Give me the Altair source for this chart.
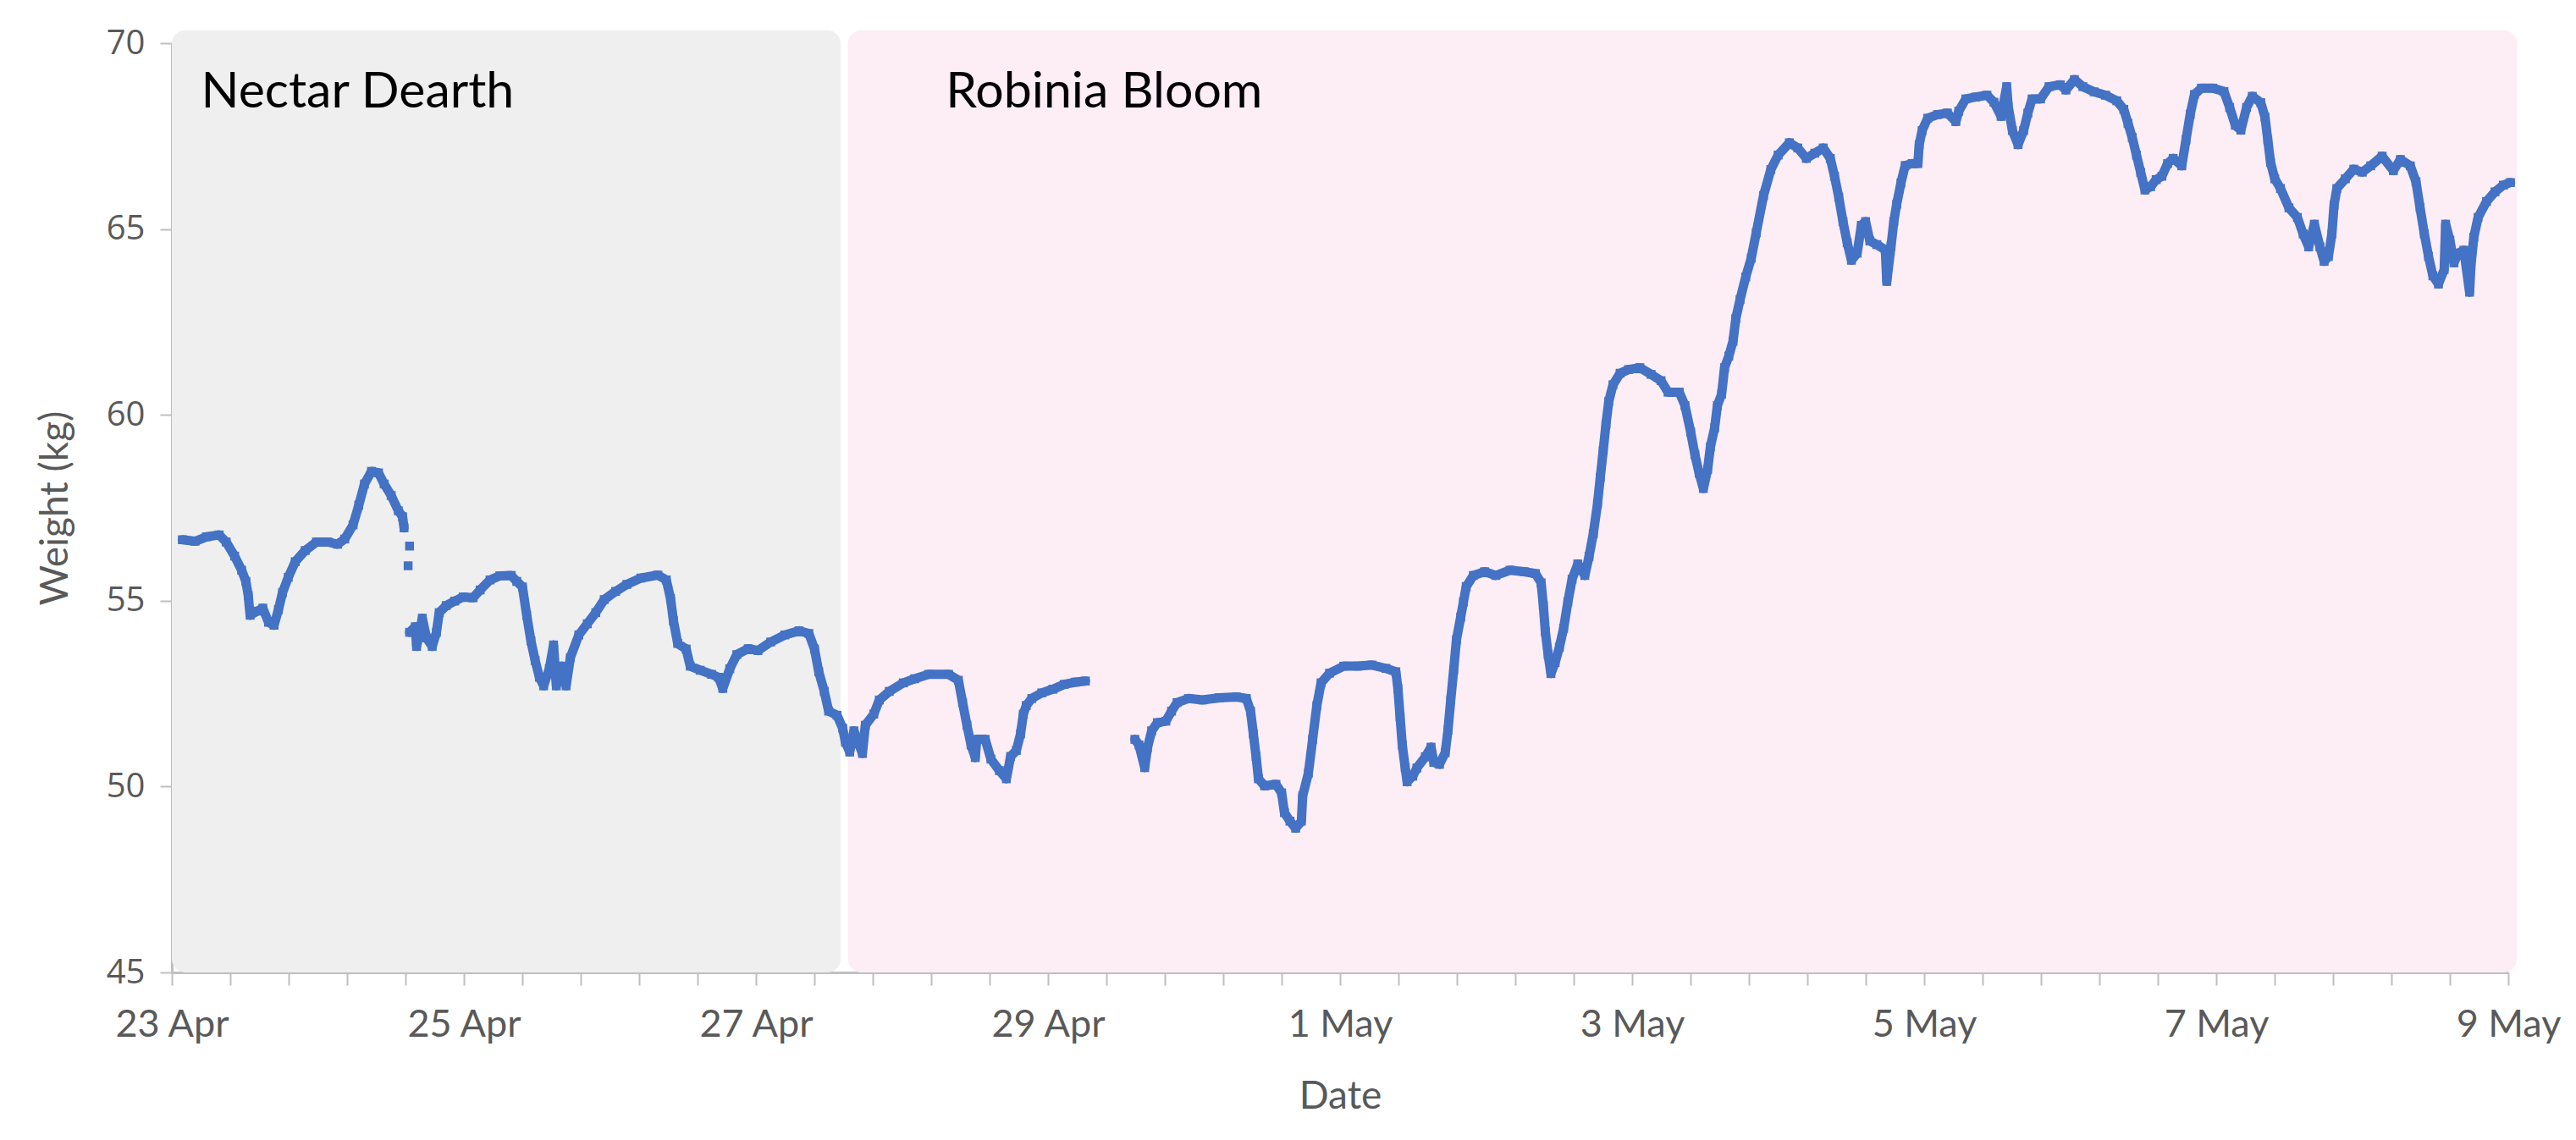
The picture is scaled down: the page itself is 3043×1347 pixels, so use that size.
import altair as alt
import pandas as pd

# ---- data (days since 23 Apr 00:00, weight in kg) ----
seg1_days = [0.072, 0.159, 0.237, 0.324, 0.372, 0.43, 0.478, 0.507, 0.523, 0.536, 0.585, 0.623,
             0.662, 0.70, 0.73, 0.758, 0.797, 0.845, 0.913, 0.99, 1.068, 1.135, 1.184, 1.241,
             1.28, 1.319, 1.367, 1.415, 1.454, 1.502, 1.551, 1.58, 1.59]
seg1_kg = [56.64, 56.60, 56.72, 56.77, 56.58, 56.20, 55.82, 55.52, 55.14, 54.61, 54.72, 54.80,
           54.42, 54.34, 54.76, 55.22, 55.63, 56.05, 56.35, 56.58, 56.58, 56.52, 56.66, 57.04,
           57.57, 58.14, 58.48, 58.44, 58.14, 57.83, 57.42, 57.26, 56.96]

stray_days = [1.628, 1.618]
stray_kg = [56.47, 55.94]

seg2_days = [1.628, 1.667, 1.676, 1.715, 1.744, 1.783, 1.812, 1.831, 1.879, 1.937, 1.995, 2.063,
             2.111, 2.179, 2.246, 2.324, 2.362, 2.401, 2.43, 2.459, 2.488, 2.517, 2.546, 2.585,
             2.614, 2.633, 2.671, 2.70, 2.729, 2.787, 2.845, 2.903, 2.961, 3.039, 3.116, 3.212,
             3.328, 3.386, 3.415, 3.435, 3.464, 3.522, 3.55, 3.618, 3.696, 3.744, 3.773, 3.821,
             3.869, 3.947, 4.014, 4.101, 4.198, 4.295, 4.362, 4.401, 4.43, 4.468, 4.498, 4.555,
             4.594, 4.613, 4.642, 4.671, 4.729, 4.749, 4.807, 4.845, 4.913, 5.009, 5.087, 5.183,
             5.319, 5.386, 5.415, 5.445, 5.473, 5.502, 5.512, 5.57, 5.609, 5.667, 5.715, 5.744,
             5.783, 5.812, 5.831, 5.851, 5.889, 5.957, 6.034, 6.111, 6.189, 6.256]
seg2_kg = [54.15, 54.30, 53.77, 54.53, 54.00, 53.77, 54.15, 54.68, 54.87, 54.99, 55.10, 55.08,
           55.29, 55.56, 55.67, 55.68, 55.52, 55.37, 54.61, 53.92, 53.39, 52.94, 52.71, 53.17,
           53.81, 52.71, 53.24, 52.71, 53.47, 54.08, 54.38, 54.68, 55.03, 55.25, 55.44, 55.61,
           55.69, 55.56, 55.06, 54.46, 53.85, 53.70, 53.24, 53.13, 53.02, 52.94, 52.64, 53.17,
           53.55, 53.71, 53.66, 53.89, 54.08, 54.19, 54.12, 53.70, 53.09, 52.56, 52.03, 51.92,
           51.57, 51.19, 50.93, 51.50, 50.89, 51.65, 51.95, 52.33, 52.56, 52.79, 52.90, 53.02,
           53.02, 52.86, 52.26, 51.65, 51.12, 50.78, 51.27, 51.27, 50.74, 50.43, 50.21, 50.81,
           50.97, 51.42, 51.95, 52.18, 52.37, 52.52, 52.62, 52.75, 52.81, 52.84]

seg3_days = [6.595, 6.623, 6.662, 6.681, 6.71, 6.749, 6.807, 6.846, 6.884, 6.962, 7.058, 7.174,
             7.29, 7.358, 7.387, 7.406, 7.425, 7.441, 7.483, 7.561, 7.60, 7.619, 7.657, 7.696,
             7.735, 7.744, 7.783, 7.812, 7.841, 7.87, 7.928, 8.025, 8.121, 8.218, 8.314, 8.382,
             8.396, 8.411, 8.426, 8.446, 8.459, 8.498, 8.526, 8.584, 8.623, 8.642, 8.681, 8.72,
             8.739, 8.758, 8.778, 8.797, 8.826, 8.845, 8.864, 8.913, 8.99, 9.067, 9.164, 9.261,
             9.338, 9.377, 9.392, 9.406, 9.425, 9.444, 9.473, 9.502, 9.531, 9.56, 9.589, 9.628,
             9.676, 9.705, 9.734, 9.763, 9.782, 9.802, 9.821, 9.84, 9.869, 9.918, 9.976, 10.053,
             10.13, 10.198, 10.246, 10.323, 10.362, 10.401, 10.43, 10.459, 10.488, 10.517, 10.536,
             10.565, 10.584, 10.613, 10.633, 10.662, 10.691, 10.71, 10.739, 10.778, 10.816, 10.85,
             10.9, 10.95, 11.0, 11.077, 11.135, 11.193, 11.251, 11.309, 11.357, 11.386, 11.415,
             11.444, 11.473, 11.502, 11.541, 11.57, 11.599, 11.628, 11.676, 11.734, 11.744, 11.773,
             11.792, 11.812, 11.841, 11.87, 11.918, 11.957, 11.966, 11.986, 12.024, 12.092, 12.159,
             12.217, 12.237, 12.285, 12.353, 12.43, 12.478, 12.527, 12.565, 12.575, 12.604, 12.643,
             12.681, 12.71, 12.739, 12.797, 12.855, 12.932, 12.971, 13.029, 13.087, 13.164, 13.242,
             13.319, 13.367, 13.396, 13.425, 13.454, 13.483, 13.512, 13.551, 13.589, 13.628, 13.667,
             13.705, 13.764, 13.793, 13.822, 13.851, 13.899, 13.976, 14.053, 14.092, 14.131, 14.169,
             14.208, 14.247, 14.305, 14.334, 14.353, 14.372, 14.401, 14.44, 14.498, 14.556, 14.595,
             14.633, 14.672, 14.71, 14.739, 14.768, 14.792, 14.807, 14.826, 14.884, 14.942, 15.0,
             15.058, 15.136, 15.213, 15.261, 15.329, 15.368, 15.396, 15.425, 15.454, 15.484, 15.522,
             15.561, 15.571, 15.6, 15.628, 15.657, 15.696, 15.735, 15.744, 15.764, 15.793, 15.851,
             15.909, 15.966, 16.015]
seg3_kg = [51.27, 51.12, 50.51, 51.04, 51.50, 51.72, 51.76, 52.03, 52.26, 52.37, 52.33, 52.39,
           52.41, 52.37, 52.03, 51.42, 50.81, 50.21, 50.02, 50.06, 49.83, 49.30, 49.07, 48.88,
           49.07, 49.75, 50.36, 51.27, 52.18, 52.79, 53.05, 53.24, 53.24, 53.27, 53.18, 53.09,
           52.64, 51.88, 51.12, 50.51, 50.13, 50.28, 50.50, 50.80, 51.06, 50.65, 50.60, 50.91,
           51.52, 52.33, 53.14, 53.95, 54.56, 54.97, 55.38, 55.68, 55.78, 55.68, 55.82, 55.78,
           55.73, 55.48, 54.87, 54.16, 53.55, 53.04, 53.34, 53.75, 54.26, 54.97, 55.58, 55.99,
           55.68, 56.19, 56.80, 57.61, 58.32, 59.04, 59.75, 60.36, 60.81, 61.12, 61.22, 61.27,
           61.09, 60.92, 60.61, 60.61, 60.25, 59.54, 58.93, 58.43, 58.02, 58.53, 59.14,
           59.65, 60.25, 60.56, 61.27, 61.58, 61.98, 62.59, 63.10, 63.71, 64.22, 64.9,
           65.9, 66.6, 66.99, 67.32, 67.18, 66.90, 67.04, 67.18, 66.90, 66.42, 65.86,
           65.20, 64.63, 64.16, 64.35, 65.10, 65.20, 64.68, 64.58, 64.44, 63.59, 64.54,
           65.20, 65.67, 66.24, 66.71, 66.76, 66.76, 67.27, 67.65, 67.98, 68.08, 68.12,
           67.89, 68.17, 68.50, 68.55, 68.60, 68.41, 68.03, 68.83, 68.31, 67.65, 67.27,
           67.65, 68.12, 68.50, 68.50, 68.83, 68.88, 68.74, 69.02, 68.83, 68.69, 68.60,
           68.45, 68.22, 67.84, 67.46, 66.99, 66.52, 66.05, 66.14, 66.33, 66.42, 66.76,
           66.90, 66.70, 67.40, 68.09, 68.62, 68.79, 68.79, 68.70, 68.27, 67.79, 67.66,
           68.27, 68.57, 68.40, 68.01, 67.40, 66.79, 66.35, 66.09, 65.57, 65.31, 64.87,
           64.52, 65.13, 64.52, 64.13, 64.26, 64.87, 65.65, 66.09, 66.35, 66.61, 66.53,
           66.70, 66.96, 66.57, 66.87, 66.70, 66.27, 65.57, 64.87, 64.26, 63.74, 63.52,
           63.91, 65.13, 64.70, 64.09, 64.35, 64.43, 63.30, 64.00, 64.78, 65.31, 65.74,
           66.00, 66.18, 66.25]

# period bands
band_names = ["Nectar Dearth", "Robinia Bloom"]
band_start = [0.0, 4.63]
band_end = [4.58, 16.06]
band_colors = ["#EFEFEF", "#FDEDF4"]
label_days = [0.2, 5.3]
label_kg = [68.26, 68.26]

# axis ticks
tick_days = [0, 2, 4, 6, 8, 10, 12, 14, 16]
tick_labels = ["23 Apr", "25 Apr", "27 Apr", "29 Apr", "1 May", "3 May", "5 May", "7 May", "9 May"]
minor_tick_days = [round(i * 0.4, 1) for i in range(41)]
y_ticks = [45, 50, 55, 60, 65, 70]

# ---- tables ----
rows = []
for seg, (ds, ks) in enumerate([(seg1_days, seg1_kg), (seg2_days, seg2_kg), (seg3_days, seg3_kg)]):
    for d, k in zip(ds, ks):
        rows.append({"day": d, "kg": k, "seg": seg})
line_df = pd.DataFrame(rows)
pts_df = pd.concat([line_df, pd.DataFrame({"day": stray_days, "kg": stray_kg, "seg": [9, 9]})])

bands_df = pd.DataFrame({"day": band_start, "day2": band_end, "kg": [45, 45], "kg2": [70.35, 70.35],
                         "color": band_colors, "name": band_names})
labels_df = pd.DataFrame({"day": label_days, "kg": label_kg, "name": band_names})

label_expr = "".join(f"datum.value === {d} ? '{t}' : " for d, t in zip(tick_days, tick_labels)) + "''"

GRAY = "#595959"
AX = "#BFBFBF"
BLUE = "#4472C4"

x_enc = alt.X("day:Q", title="Date",
              scale=alt.Scale(domain=[0, 16], nice=False, zero=False),
              axis=alt.Axis(values=minor_tick_days, labelExpr=label_expr, grid=False,
                            labelFont="Lato", labelFontSize=45, labelColor=GRAY,
                            labelFlush=False, labelOverlap=False, labelPadding=24,
                            domainColor=AX, domainWidth=3, tickColor=AX, tickWidth=2, tickSize=15,
                            titleFont="Lato", titleFontSize=46, titleFontWeight="normal",
                            titleColor=GRAY, titlePadding=40))
y_enc = alt.Y("kg:Q", title="Weight (kg)",
              scale=alt.Scale(domain=[45, 70], nice=False, zero=False),
              axis=alt.Axis(values=y_ticks, grid=False,
                            labelFont="Open Sans", labelFontSize=40, labelColor=GRAY,
                            labelPadding=18, labelFlush=False,
                            domainColor=AX, domainWidth=3, tickColor=AX, tickWidth=2, tickSize=14,
                            titleFont="Lato", titleFontSize=46, titleFontWeight="normal",
                            titleColor=GRAY, titlePadding=36))

bands = alt.Chart(bands_df).mark_rect(cornerRadius=16, clip=False).encode(
    x=x_enc, x2="day2:Q", y=y_enc, y2="kg2:Q", color=alt.Color("color:N", scale=None))

texts = alt.Chart(labels_df).mark_text(align="left", baseline="alphabetic", font="Lato",
                                       fontSize=59, color="#000000").encode(
    x=x_enc, y=y_enc, text="name:N")

line = alt.Chart(line_df).mark_line(color=BLUE, strokeWidth=11, strokeJoin="round",
                                    strokeCap="round").encode(x=x_enc, y=y_enc, detail="seg:N",
                                                              order="day:Q")
pts = alt.Chart(pts_df).mark_square(color=BLUE, size=110, opacity=1).encode(x=x_enc, y=y_enc)

chart = alt.layer(bands, texts, line, pts).properties(
    width=2760, height=1098, autosize="none",
    padding={"left": 195, "top": 43, "right": 72, "bottom": 180},
    background="white"
).configure_view(stroke=None)

chart.save("out.html", embed_options={"renderer": "svg", "actions": False})
